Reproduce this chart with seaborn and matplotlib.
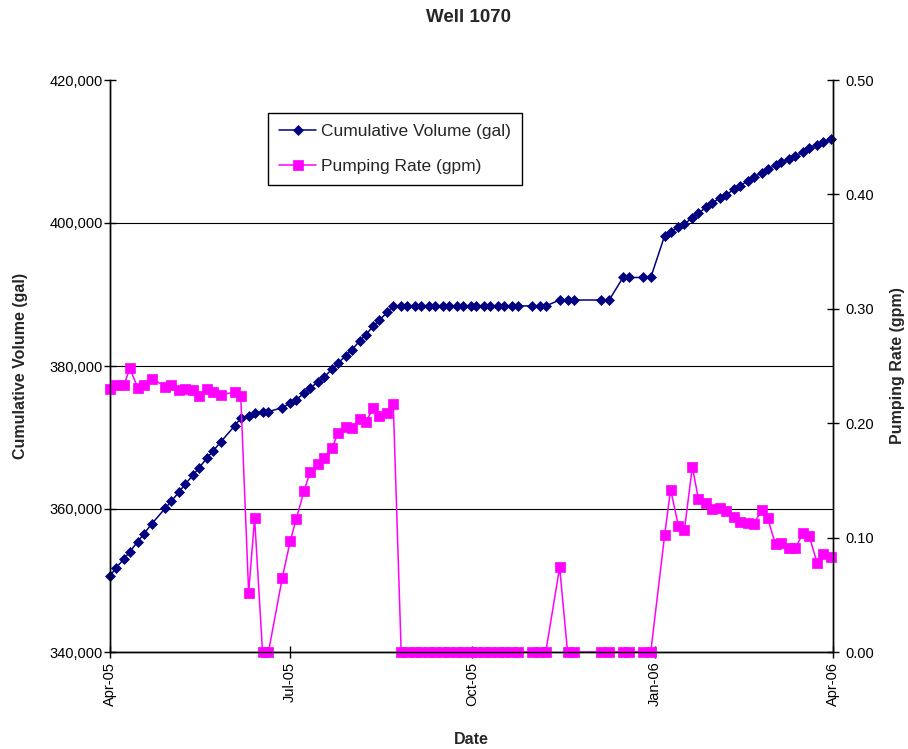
import matplotlib
matplotlib.use("Agg")
import matplotlib.pyplot as plt
import matplotlib.dates as mdates
from matplotlib.ticker import FuncFormatter
import pandas as pd
import seaborn as sns

# Monitoring dates for Well 1070
dates = [
    "2005-04-01", "2005-04-04", "2005-04-08", "2005-04-11", "2005-04-15", "2005-04-18",
    "2005-04-22", "2005-04-29", "2005-05-02", "2005-05-06", "2005-05-09", "2005-05-13",
    "2005-05-16", "2005-05-20", "2005-05-23", "2005-05-27", "2005-06-03", "2005-06-06",
    "2005-06-10", "2005-06-13", "2005-06-17", "2005-06-20", "2005-06-27", "2005-07-01",
    "2005-07-04", "2005-07-08", "2005-07-11", "2005-07-15", "2005-07-18", "2005-07-22",
    "2005-07-25", "2005-07-29", "2005-08-01", "2005-08-05", "2005-08-08", "2005-08-12",
    "2005-08-15", "2005-08-19", "2005-08-22", "2005-08-26", "2005-08-29", "2005-09-02",
    "2005-09-05", "2005-09-09", "2005-09-12", "2005-09-16", "2005-09-19", "2005-09-23",
    "2005-09-26", "2005-09-30", "2005-10-03", "2005-10-07", "2005-10-10", "2005-10-14",
    "2005-10-17", "2005-10-21", "2005-10-24", "2005-10-31", "2005-11-04", "2005-11-07",
    "2005-11-14", "2005-11-18", "2005-11-21", "2005-12-05", "2005-12-09", "2005-12-16",
    "2005-12-19", "2005-12-26", "2005-12-30", "2006-01-06", "2006-01-09", "2006-01-13",
    "2006-01-16", "2006-01-20", "2006-01-23", "2006-01-27", "2006-01-30", "2006-02-03",
    "2006-02-06", "2006-02-10", "2006-02-13", "2006-02-17", "2006-02-20", "2006-02-24",
    "2006-02-27", "2006-03-03", "2006-03-06", "2006-03-10", "2006-03-13", "2006-03-17",
    "2006-03-20", "2006-03-24", "2006-03-27", "2006-03-31",
]

# Totalizer reading (gal)
cumulative_gal = [
    350630, 351750, 353000, 354030, 355430, 356500, 357900, 360140, 361120, 362420,
    363500, 364750, 365780, 367130, 368110, 369410, 371650, 372690, 373050, 373470,
    373610, 373620, 374170, 374780, 375310, 376180, 376880, 377800, 378420, 379540,
    380380, 381400, 382240, 383500, 384340, 385590, 386430, 387510, 388400, 388400,
    388400, 388400, 388400, 388400, 388400, 388400, 388400, 388400, 388400, 388400,
    388400, 388400, 388400, 388400, 388400, 388400, 388400, 388400, 388400, 388400,
    389230, 389230, 389230, 389230, 389230, 392380, 392380, 392380, 392380, 398220,
    398780, 399480, 399860, 400740, 401360, 402200, 402760, 403540, 403920, 404710,
    405220, 405870, 406390, 407030, 407510, 408110, 408490, 408950, 409370, 409970,
    410450, 410910, 411280, 411750,
]

# Average pumping rate since previous reading (gpm)
pumping_gpm = [
    0.230, 0.233, 0.233, 0.248, 0.231, 0.233, 0.239, 0.232, 0.233, 0.229,
    0.230, 0.229, 0.224, 0.230, 0.227, 0.225, 0.227, 0.224, 0.052, 0.117,
    0.000, 0.000, 0.065, 0.097, 0.116, 0.141, 0.157, 0.164, 0.170, 0.178,
    0.191, 0.197, 0.196, 0.204, 0.201, 0.213, 0.206, 0.209, 0.217, 0.000,
    0.000, 0.000, 0.000, 0.000, 0.000, 0.000, 0.000, 0.000, 0.000, 0.000,
    0.000, 0.000, 0.000, 0.000, 0.000, 0.000, 0.000, 0.000, 0.000, 0.000,
    0.074, 0.000, 0.000, 0.000, 0.000, 0.000, 0.000, 0.000, 0.000, 0.102,
    0.142, 0.110, 0.107, 0.162, 0.134, 0.130, 0.125, 0.126, 0.123, 0.118,
    0.114, 0.113, 0.112, 0.124, 0.117, 0.094, 0.095, 0.091, 0.091, 0.104,
    0.101, 0.078, 0.086, 0.083,
]

x_ticks = ["2005-04-01", "2005-07-01", "2005-10-01", "2006-01-01", "2006-04-01"]
volume_ticks = [340000, 360000, 380000, 400000, 420000]
rate_ticks = [0.0, 0.1, 0.2, 0.3, 0.4, 0.5]

sns.set_style("white")
plt.rcParams["font.family"] = ["Liberation Sans", "DejaVu Sans"]

df = pd.DataFrame({
    "Date": pd.to_datetime(dates),
    "Cumulative": cumulative_gal,
    "Rate": pumping_gpm,
})

W, H = 908, 749
fig = plt.figure(figsize=(W / 100, H / 100), dpi=100)
fig.patch.set_facecolor("white")
L, R, T, B = 110, 833, 80, 652
ax = fig.add_axes([L / W, 1 - B / H, (R - L) / W, (B - T) / H])
ax2 = ax.twinx()

navy = "#000080"
magenta = "#FF00FF"

sns.lineplot(data=df, x="Date", y="Cumulative", ax=ax, color=navy,
             marker="D", markersize=5.5, markeredgecolor=navy,
             markeredgewidth=0.5, linewidth=1.1, legend=False, clip_on=False)
sns.lineplot(data=df, x="Date", y="Rate", ax=ax2, color=magenta,
             marker="s", markersize=6.5, markeredgecolor=magenta,
             markeredgewidth=0.5, linewidth=1.1, legend=False, clip_on=False)

ax.set_xlim(pd.Timestamp(x_ticks[0]), pd.Timestamp(x_ticks[-1]))
ax.set_ylim(volume_ticks[0], volume_ticks[-1])
ax2.set_ylim(rate_ticks[0], rate_ticks[-1])

ax.set_xticks(pd.to_datetime(x_ticks))
ax.xaxis.set_major_formatter(mdates.DateFormatter("%b-%y"))
ax.set_yticks(volume_ticks)
ax.yaxis.set_major_formatter(FuncFormatter(lambda v, p: f"{v:,.0f}"))
ax2.set_yticks(rate_ticks)
ax2.yaxis.set_major_formatter(FuncFormatter(lambda v, p: f"{v:.2f}"))

# horizontal gridlines at the volume ticks, except along the top edge
ax.yaxis.grid(True, color="black", linewidth=0.8)
ax.xaxis.grid(False)
ax2.grid(False)
ax.get_ygridlines()[-1].set_visible(False)

for a in (ax, ax2):
    a.spines["top"].set_visible(False)
    for s in ("left", "right", "bottom"):
        a.spines[s].set_color("black")
        a.spines[s].set_linewidth(1.0)

ax.tick_params(axis="x", bottom=True, direction="inout", length=8, width=1,
               labelsize=10.5, pad=3, labelrotation=90, colors="black")
ax.tick_params(axis="y", left=True, direction="inout", length=8, width=1,
               labelsize=10.5, pad=1, colors="black")
ax2.tick_params(axis="y", right=True, direction="inout", length=8, width=1,
                labelsize=10.5, pad=5, colors="black")

ax.set_xlabel("Date", fontsize=11.5, fontweight="bold")
ax.set_ylabel("Cumulative Volume (gal)", fontsize=11.5, fontweight="bold")
ax2.set_ylabel("Pumping Rate (gpm)", fontsize=11.5, fontweight="bold")
ax.xaxis.set_label_coords(0.5, -0.14)
ax.yaxis.set_label_coords(-0.113, 0.5)
ax2.yaxis.set_label_coords(1.079, 0.5)

fig.text(468 / W, 1 - 18 / H, "Well 1070", ha="center", va="center",
         fontsize=13.5, fontweight="bold")

handles = [ax.lines[0], ax2.lines[0]]
labels = ["Cumulative Volume (gal)", "Pumping Rate (gpm)"]
leg = ax2.legend(handles, labels, loc="upper left",
                 bbox_to_anchor=((268 - L) / (R - L), (B - 113) / (B - T)),
                 frameon=True, fancybox=False, shadow=False, framealpha=1,
                 edgecolor="black", fontsize=12.5, numpoints=1,
                 handlelength=2.1, handletextpad=0.3, labelspacing=1.1,
                 borderpad=0.65, borderaxespad=0)
leg.get_frame().set_linewidth(1.0)

fig.savefig("out.png", dpi=100, facecolor="white")
